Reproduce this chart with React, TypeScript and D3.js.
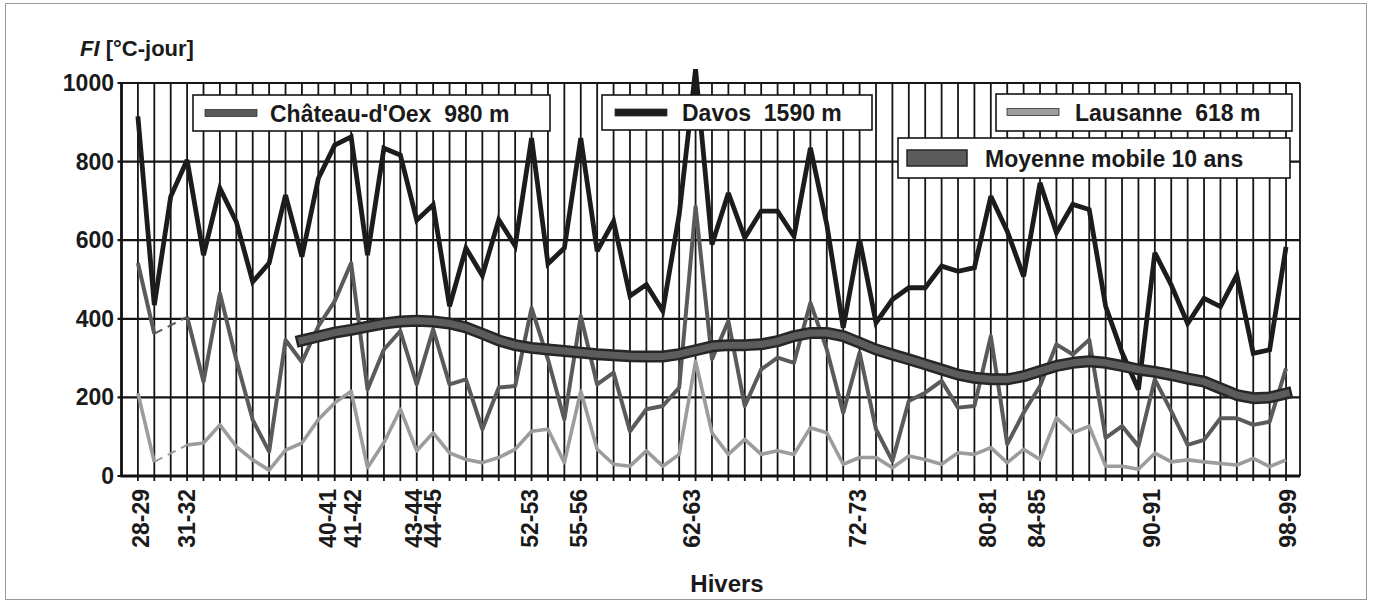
import React from "react";
import * as d3 from "d3";

// winters 1928-29 .. 1998-99
const winters = [
  "28-29", "29-30", "30-31", "31-32", "32-33", "33-34", "34-35", "35-36", "36-37", "37-38",
  "38-39", "39-40", "40-41", "41-42", "42-43", "43-44", "44-45", "45-46", "46-47", "47-48",
  "48-49", "49-50", "50-51", "51-52", "52-53", "53-54", "54-55", "55-56", "56-57", "57-58",
  "58-59", "59-60", "60-61", "61-62", "62-63", "63-64", "64-65", "65-66", "66-67", "67-68",
  "68-69", "69-70", "70-71", "71-72", "72-73", "73-74", "74-75", "75-76", "76-77", "77-78",
  "78-79", "79-80", "80-81", "81-82", "82-83", "83-84", "84-85", "85-86", "86-87", "87-88",
  "88-89", "89-90", "90-91", "91-92", "92-93", "93-94", "94-95", "95-96", "96-97", "97-98",
  "98-99",
];

const davos = [
  915, 435, 711, 804, 562, 732, 647, 494, 542, 715,
  558, 757, 842, 863, 562, 834, 817, 651, 690, 432,
  580, 510, 652, 586, 860, 540, 580, 860, 572, 648,
  458, 487, 420, 665, 1035, 589, 720, 606, 674, 674,
  610, 835, 640, 377, 602, 390, 449, 479, 479, 534,
  521, 530, 712, 623, 508, 746, 619, 691, 678, 432,
  314, 220, 568, 486, 388, 452, 431, 511, 312, 321,
  583,
];

const chateau = [
  542, 362, null, 405, 240, 465, 295, 143, 62, 346,
  290, 381, 445, 542, 220, 322, 369, 233, 373, 233,
  246, 119, 225, 229, 428, 297, 144, 407, 233, 263,
  114, 170, 178, 225, 686, 297, 394, 178, 271, 301,
  288, 441, 322, 161, 314, 119, 38, 191, 212, 242,
  174, 178, 356, 81, 161, 229, 335, 309, 347, 97,
  127, 76, 246, 165, 79, 92, 147, 147, 130, 138,
  274,
];

const lausanne = [
  211, 36, null, 79, 84, 130, 75, 41, 15, 66,
  84, 144, 186, 216, 21, 85, 170, 64, 110, 59,
  42, 34, 47, 68, 114, 119, 34, 216, 68, 30,
  25, 64, 25, 55, 292, 110, 55, 93, 55, 64,
  55, 123, 110, 30, 47, 47, 21, 51, 42, 30,
  59, 55, 72, 34, 68, 42, 148, 110, 127, 25,
  25, 17, 58, 36, 41, 36, 32, 28, 45, 24,
  41,
];

const movingAvg = [
  null, null, null, null, null, null, null, null, null, null,
  345, 355, 365, 372, 380, 388, 393, 395, 393, 388,
  378, 362, 345, 333, 326, 322, 318, 314, 310, 307,
  305, 304, 304, 310, 320, 330, 333, 333, 335, 343,
  356, 364, 364, 356, 339, 322, 309, 297, 284, 271,
  258, 250, 246, 246, 254, 267, 280, 288, 292, 288,
  280, 271, 265, 257, 248, 240, 223, 206, 198, 200,
  210,
];

// labelled winters and where they sit along the winter axis in the figure
const tickLabels = ["28-29", "31-32", "40-41", "41-42", "43-44", "44-45", "52-53", "55-56", "62-63", "72-73", "80-81", "84-85", "90-91", "98-99"];
const tickSlots = [0.2, 3, 11.6, 13.1, 16.8, 18, 23.9, 26.9, 33.8, 43.9, 51.8, 54.8, 61.8, 70.1];

const yTicks = [0, 200, 400, 600, 800, 1000];

const FONT = "'Liberation Sans', Arial, Helvetica, sans-serif";
const INK = "#1a1a1a";
const C_DAVOS = "#1c1c1c";
const C_CHATEAU = "#5a5a5a";
const C_LAUSANNE = "#9c9c9c";
const C_AVG = "#5c5c5c";
const NB = "\u00a0";

const W = 1373;
const H = 604;

const App = () => {
  const x = d3.scaleLinear().domain([-1, 70.85]).range([121.5, 1300]);
  const y = d3.scaleLinear().domain([0, 1000]).range([476, 83]);

  const line = d3
    .line<number | null>()
    .defined((d) => d != null)
    .x((d, i) => x(i))
    .y((d) => y(d as number));

  // dashed bridge across the missing winter (29-30 -> 31-32)
  const gap = (arr: (number | null)[]) =>
    `M${x(1)},${y(arr[1] as number)}L${x(3)},${y(arr[3] as number)}`;

  const [x0, x1] = x.range();
  const [yb, yt] = y.range();

  const legendLine = (lx: number, ly: number, color: string) => (
    <rect x={lx} y={ly - 3.5} width={52} height={7} fill={color} stroke="#333" strokeWidth={0.8} />
  );

  return (
    <svg
      width={W}
      height={H}
      style={{ position: "absolute", left: 0, top: 0, background: "#fff" }}
      fontFamily={FONT}
    >
      <rect x={5.5} y={3.5} width={1361} height={596} fill="#fff" stroke="#9a9a9a" strokeWidth={1} />

      {/* title */}
      <text x={80} y={56} fontSize={22} fontWeight="bold" fill={INK}>
        <tspan fontStyle="italic">FI</tspan>
        <tspan>{NB + "[°C-jour]"}</tspan>
      </text>

      {/* vertical grid, one line per winter */}
      <g stroke="#151515" strokeWidth={1.8}>
        {winters.map((w, i) => (
          <line key={w} x1={x(i)} x2={x(i)} y1={yt} y2={yb + 5} />
        ))}
      </g>

      {/* horizontal grid */}
      <g stroke="#151515" strokeWidth={2.2}>
        {yTicks.map((t) => (
          <line key={t} x1={x0 - 4} x2={x1} y1={y(t)} y2={y(t)} />
        ))}
      </g>
      <line x1={x1} x2={x1} y1={yt} y2={yb} stroke="#151515" strokeWidth={1.8} />
      <line x1={x0} x2={x0} y1={yt} y2={yb + 1} stroke="#111" strokeWidth={2.8} />
      <line x1={x0 - 1} x2={x1} y1={yb} y2={yb} stroke="#111" strokeWidth={2.8} />

      {/* y labels */}
      <g fontSize={23} fontWeight="bold" fill={INK} textAnchor="end">
        {yTicks.map((t) => (
          <text key={t} x={114} y={y(t) + 8}>
            {t}
          </text>
        ))}
      </g>

      {/* x labels */}
      <g fontSize={23} fontWeight="bold" fill={INK} textAnchor="end">
        {tickLabels.map((lab, k) => (
          <text key={lab} transform={`translate(${x(tickSlots[k])},489) rotate(-90)`} dy="0.35em">
            {lab}
          </text>
        ))}
      </g>

      {/* series */}
      <path d={line(lausanne) || ""} fill="none" stroke={C_LAUSANNE} strokeWidth={3.6} strokeLinejoin="round" />
      <path d={gap(lausanne)} fill="none" stroke={C_LAUSANNE} strokeWidth={2} strokeDasharray="9 6" />
      <path d={line(chateau) || ""} fill="none" stroke={C_CHATEAU} strokeWidth={4} strokeLinejoin="round" />
      <path d={gap(chateau)} fill="none" stroke={C_CHATEAU} strokeWidth={2} strokeDasharray="9 6" />
      <path d={line(davos) || ""} fill="none" stroke={C_DAVOS} strokeWidth={4.8} strokeLinejoin="miter" strokeMiterlimit={3} />
      <path d={line(movingAvg) || ""} fill="none" stroke="#262626" strokeWidth={12} strokeLinecap="square" strokeLinejoin="round" />
      <path d={line(movingAvg) || ""} fill="none" stroke={C_AVG} strokeWidth={7} strokeLinecap="square" strokeLinejoin="round" />

      {/* legends */}
      <g fontSize={23} fontWeight="bold" fill={INK}>
        <rect x={193} y={95} width={357} height={36} fill="#fff" stroke="#151515" strokeWidth={1.6} />
        {legendLine(205, 113, C_CHATEAU)}
        <text x={270} y={121.5}>{"Château-d'Oex" + NB + NB + "980" + NB + "m"}</text>

        <rect x={602} y={95} width={270} height={35} fill="#fff" stroke="#151515" strokeWidth={1.6} />
        {legendLine(615, 112.5, C_DAVOS)}
        <text x={682} y={121}>{"Davos" + NB + NB + "1590" + NB + "m"}</text>

        <rect x={996} y={94} width={296} height={37} fill="#fff" stroke="#151515" strokeWidth={1.6} />
        {legendLine(1007, 112, C_LAUSANNE)}
        <text x={1075} y={120.5}>{"Lausanne" + NB + NB + "618" + NB + "m"}</text>

        <rect x={898} y={138} width={392} height={40} fill="#fff" stroke="#151515" strokeWidth={1.6} />
        <rect x={907} y={150} width={60} height={16} fill={C_AVG} stroke="#262626" strokeWidth={1.5} />
        <text x={985} y={166.5}>Moyenne mobile 10 ans</text>
      </g>

      {/* x axis title */}
      <text x={727} y={592} fontSize={24} fontWeight="bold" fill={INK} textAnchor="middle">
        Hivers
      </text>
    </svg>
  );
};

export default App;
